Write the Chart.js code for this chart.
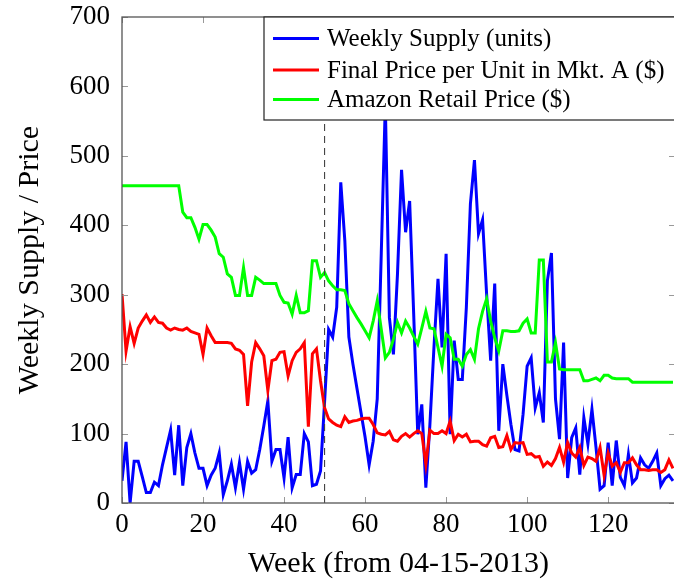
<!DOCTYPE html>
<html>
<head>
<meta charset="utf-8">
<script src="https://cdn.jsdelivr.net/npm/chart.js@4"></script>
<style>
  html, body { margin: 0; padding: 0; background: #fff; overflow: hidden; }
  #wrap { position: relative; width: 676px; height: 582px; }
</style>
</head>
<body>
<div id="wrap"><canvas id="supplyChart"></canvas></div>
<script>
// weeks since 04-15-2013
const weeks = [
  0, 1, 2, 3, 4, 5, 6, 7, 8, 9, 10, 11, 12, 13, 14, 15, 16, 17, 18, 19,
  20, 21, 22, 23, 24, 25, 26, 27, 28, 29, 30, 31, 32, 33, 34, 35, 36, 37, 38, 39,
  40, 41, 42, 43, 44, 45, 46, 47, 48, 49, 50, 51, 52, 53, 54, 55, 56, 57, 58, 59,
  60, 61, 62, 63, 64, 65, 66, 67, 68, 69, 70, 71, 72, 73, 74, 75, 76, 77, 78, 79,
  80, 81, 82, 83, 84, 85, 86, 87, 88, 89, 90, 91, 92, 93, 94, 95, 96, 97, 98, 99,
  100, 101, 102, 103, 104, 105, 106, 107, 108, 109, 110, 111, 112, 113, 114, 115, 116, 117, 118, 119,
  120, 121, 122, 123, 124, 125, 126, 127, 128, 129, 130, 131, 132, 133, 134, 135, 136
];

const weeklySupply = [
  32, 88, 0, 60, 60, 38, 15, 15, 30, 25, 55, 80, 105, 40, 112, 25, 80, 100, 72, 50,
  50, 25, 40, 50, 72, 12, 32, 56, 22, 58, 20, 60, 43, 48, 77, 111, 147, 60, 77, 77,
  36, 95, 22, 41, 41, 100, 88, 25, 27, 46, 145, 250, 239, 282, 462, 378, 239, 200, 165, 130,
  95, 55, 89, 150, 360, 575, 267, 214, 330, 480, 390, 435, 272, 99, 142, 22, 113, 224, 323, 224,
  359, 99, 234, 178, 178, 282, 431, 494, 388, 408, 301, 205, 316, 104, 200, 155, 113, 77, 75, 128,
  197, 209, 137, 159, 116, 320, 360, 150, 92, 231, 36, 94, 108, 41, 123, 85, 135, 80, 20, 25,
  87, 25, 90, 37, 25, 70, 29, 36, 65, 55, 50, 60, 72, 25, 35, 40, 32
];

const finalPriceA = [
  301, 219, 254, 230, 252, 262, 271, 260, 268, 260, 259, 252, 249, 252, 250, 249, 252, 247, 245, 243,
  214, 252, 241, 231, 231, 231, 231, 230, 222, 220, 214, 140, 203, 231, 222, 212, 162, 205, 207, 217,
  218, 183, 205, 217, 222, 231, 110, 215, 222, 176, 137, 121, 116, 112, 110, 124, 116, 118, 119, 121,
  122, 122, 113, 101, 99, 98, 103, 91, 89, 96, 100, 95, 100, 104, 100, 56, 105, 100, 100, 104,
  100, 118, 90, 99, 95, 99, 88, 89, 89, 84, 82, 94, 96, 80, 81, 97, 77, 87, 86, 87,
  70, 71, 66, 67, 53, 59, 54, 64, 80, 59, 87, 72, 66, 80, 54, 66, 64, 60, 80, 40,
  72, 53, 58, 44, 58, 58, 65, 55, 48, 48, 47, 48, 48, 44, 48, 62, 50
];

const amazonPrice = [
  457, 457, 457, 457, 457, 457, 457, 457, 457, 457, 457, 457, 457, 457, 457, 419, 411, 411, 397, 380,
  401, 401, 393, 383, 359, 354, 330, 325, 299, 299, 339, 299, 299, 325, 321, 316, 316, 316, 316, 299,
  289, 288, 272, 299, 274, 274, 277, 349, 349, 325, 332, 320, 313, 307, 307, 306, 287, 277, 267, 258,
  248, 238, 262, 291, 250, 209, 217, 236, 260, 245, 262, 252, 240, 229, 252, 276, 252, 251, 224, 197,
  243, 238, 207, 207, 197, 214, 221, 207, 251, 276, 294, 262, 238, 219, 248, 248, 247, 247, 248, 259,
  265, 245, 245, 350, 350, 203, 203, 231, 193, 192, 192, 192, 192, 192, 176, 176, 178, 180, 176, 184,
  184, 180, 179, 179, 179, 179, 174, 174, 174, 174, 174, 174, 174, 174, 174, 174, 174
];

const seriesNames = ['Weekly Supply (units)', 'Final Price per Unit in Mkt. A ($)', 'Amazon Retail Price ($)'];
const seriesColors = ['#0000ff', '#ff0000', '#00ff00'];
const xTicks = [0, 20, 40, 60, 80, 100, 120];
const yTicks = [0, 100, 200, 300, 400, 500, 600, 700];
const markerWeek = 50;

const serif = '"Liberation Serif", "Times New Roman", serif';
Chart.defaults.font.family = serif;
Chart.defaults.color = '#000';

// frame, inward ticks, dashed marker and boxed legend (pgfplots look)
const framePlugin = {
  id: 'frame',
  afterDatasetsDraw(chart) {
    const { ctx, chartArea: a, scales: { x, y } } = chart;
    ctx.save();

    const mx = x.getPixelForValue(markerWeek);
    ctx.strokeStyle = '#444';
    ctx.lineWidth = 1.1;
    ctx.setLineDash([7, 5]);
    ctx.beginPath();
    ctx.moveTo(mx, a.bottom);
    ctx.lineTo(mx, a.top);
    ctx.stroke();
    ctx.setLineDash([]);

    ctx.strokeStyle = '#999';
    ctx.lineWidth = 1;
    ctx.beginPath();
    xTicks.forEach(v => {
      const px = Math.round(x.getPixelForValue(v)) + 0.5;
      ctx.moveTo(px, a.bottom); ctx.lineTo(px, a.bottom - 6);
      ctx.moveTo(px, a.top); ctx.lineTo(px, a.top + 6);
    });
    yTicks.forEach(v => {
      const py = Math.round(y.getPixelForValue(v)) + 0.5;
      ctx.moveTo(a.left, py); ctx.lineTo(a.left + 6, py);
      ctx.moveTo(a.right, py); ctx.lineTo(a.right - 6, py);
    });
    ctx.stroke();

    ctx.strokeStyle = '#555';
    ctx.lineWidth = 1.3;
    ctx.strokeRect(a.left, a.top, a.right - a.left, a.bottom - a.top);

    // legend box in the top right corner
    const lx = a.right - 411, ly = a.top, lh = 103;
    ctx.fillStyle = '#fff';
    ctx.fillRect(lx, ly, a.right - lx, lh);
    ctx.strokeStyle = '#222';
    ctx.lineWidth = 1.2;
    ctx.strokeRect(lx, ly, a.right - lx + 2, lh);
    ctx.font = '25px ' + serif;
    ctx.textBaseline = 'middle';
    ctx.textAlign = 'left';
    const rows = [21.5, 53, 82.5];
    seriesNames.forEach((name, i) => {
      const ry = ly + rows[i];
      ctx.strokeStyle = seriesColors[i];
      ctx.lineWidth = 3;
      ctx.beginPath();
      ctx.moveTo(lx + 9, ry);
      ctx.lineTo(lx + 55, ry);
      ctx.stroke();
      ctx.fillStyle = '#000';
      ctx.fillText(name, lx + 63, ry + 1);
    });
    ctx.restore();
  }
};

const ctx = document.getElementById('supplyChart').getContext('2d');
new Chart(ctx, {
  type: 'line',
  data: {
    labels: weeks,
    datasets: [
      { label: seriesNames[0], data: weeklySupply, borderColor: seriesColors[0], order: 2 },
      { label: seriesNames[1], data: finalPriceA, borderColor: seriesColors[1], order: 1 },
      { label: seriesNames[2], data: amazonPrice, borderColor: seriesColors[2], order: 0 }
    ]
  },
  options: {
    responsive: true,
    maintainAspectRatio: false,
    animation: false,
    devicePixelRatio: 1,
    layout: { padding: { top: 17, right: 1, left: 0, bottom: 0 } },
    elements: {
      line: { borderWidth: 3, tension: 0, fill: false, borderJoinStyle: 'miter' },
      point: { radius: 0 }
    },
    plugins: {
      legend: { display: false },
      tooltip: { enabled: false }
    },
    scales: {
      x: {
        type: 'linear',
        min: 0,
        max: 136.5,
        grid: { display: false, drawTicks: false },
        border: { display: false },
        ticks: { stepSize: 20, includeBounds: false, maxRotation: 0, padding: 6, font: { size: 27 } },
        title: { display: true, text: 'Week (from 04-15-2013)', font: { size: 30 }, padding: { top: 4, bottom: 0 } },
        afterFit(s) { s.height = 79; s.paddingLeft = 0; s.paddingRight = 0; }
      },
      y: {
        min: 0,
        max: 700,
        grid: { display: false, drawTicks: false },
        border: { display: false },
        ticks: { stepSize: 100, padding: 12, font: { size: 27 } },
        title: { display: true, text: 'Weekly Supply / Price', font: { size: 30 }, padding: { top: 12, bottom: 4 } },
        afterFit(s) { s.width = 122; s.paddingTop = 0; s.paddingBottom = 0; }
      }
    }
  },
  plugins: [framePlugin]
});
</script>
</body>
</html>
